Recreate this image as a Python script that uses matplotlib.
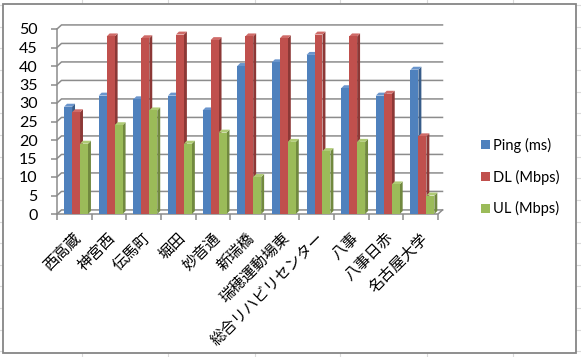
import matplotlib
matplotlib.use("Agg")
import matplotlib.pyplot as plt
from matplotlib.patches import Polygon, Rectangle
from matplotlib.lines import Line2D
import numpy as np

plt.rcParams["font.family"] = ["Lato", "Noto Sans CJK JP", "DejaVu Sans"]

# ── data
stations = ["西高蔵", "神宮西", "伝馬町", "堀田", "妙音通", "新瑞橋",
            "瑞穂運動場東", "総合リハビリセンター", "八事", "八事日赤", "名古屋大学"]
ping_ms = [29, 32, 31, 32, 28, 40, 41, 43, 34, 32, 39]
dl_mbps = [27.5, 48, 47.5, 48.5, 47, 48, 47.5, 48.5, 48, 32.5, 21]
ul_mbps = [19, 24, 28, 19, 22, 10, 19.5, 17, 19.5, 8, 5]
series_names = ["Ping (ms)", "DL (Mbps)", "UL (Mbps)"]
yticks = list(range(0, 55, 5))

W, H = 581, 357
fig = plt.figure(figsize=(W / 100, H / 100), dpi=100)
fig.patch.set_facecolor("white")


def fx(px):
    return px / W


def fy(py):
    return 1 - py / H


# ── spreadsheet grid behind the chart object
cell_col = "#dadada"
for x in [82, 168, 255, 340, 427, 513]:
    fig.add_artist(Line2D([fx(x), fx(x)], [fy(0), fy(H)], color=cell_col, lw=0.8, zorder=0))
for y in np.arange(5, H, 21.65):
    fig.add_artist(Line2D([fx(0), fx(W)], [fy(y), fy(y)], color=cell_col, lw=0.8, zorder=0))

# ── chart object frame
fig.add_artist(Rectangle((fx(3), fy(353)), fx(573), 349 / H, transform=fig.transFigure,
                         facecolor="white", edgecolor="#868686", lw=1.3, zorder=1))

ax = fig.add_axes([fx(57), fy(214), fx(381), 185 / H], zorder=2)
ax.set_facecolor("none")
n = len(stations)
ax.set_xlim(-0.5, n - 0.5)
ax.set_ylim(0, 50)

# depth of the 3D walls (data units)
DX, DY = 0.13, 1.1
grid_col = "#8c8c8c"
x0, x1 = -0.5, n - 0.5
for v in yticks:
    ax.plot([x0, x0 + DX, x1 + DX], [v, v + DY, v + DY], color=grid_col, lw=1.1,
            zorder=1, clip_on=False)
ax.plot([x0, x1, x1 + DX], [0, 0, DY], color=grid_col, lw=1.1, zorder=1, clip_on=False)

# ── pseudo-3D clustered columns
colors = ["#4F81BD", "#C0504D", "#9BBB59"]
sides = ["#385D8A", "#8C3836", "#71893F"]
tops = ["#6A95CC", "#CF6B68", "#AFCB75"]
offsets = [-0.18, 0.05, 0.28]
bw = 0.23
bdx, bdy = 0.085, 0.8
x = np.arange(n)
for s, vals in enumerate([ping_ms, dl_mbps, ul_mbps]):
    for i, h in enumerate(vals):
        z = 3 + s
        left = x[i] + offsets[s] - bw / 2
        right = left + bw
        ax.add_patch(Polygon([(right, 0), (right + bdx, bdy), (right + bdx, h + bdy), (right, h)],
                             closed=True, facecolor=sides[s], edgecolor="none", zorder=z))
        ax.add_patch(Polygon([(left, h), (left + bdx, h + bdy), (right + bdx, h + bdy), (right, h)],
                             closed=True, facecolor=tops[s], edgecolor="none", zorder=z))
    ax.bar(x + offsets[s], vals, bw, color=colors[s], zorder=3 + s, label=series_names[s])

# ── axes
for side in ["top", "right", "bottom"]:
    ax.spines[side].set_visible(False)
ax.spines["left"].set_color(grid_col)
ax.spines["left"].set_linewidth(1.1)
ax.set_yticks(yticks)
ax.tick_params(axis="y", length=4, width=1.1, color=grid_col, pad=10, labelsize=11.5)

ax.set_xticks(x)
ax.set_xticklabels(stations, rotation=45, ha="right", rotation_mode="anchor", fontsize=11)
ax.set_xticks(np.arange(-0.5, n, 1), minor=True)
ax.tick_params(axis="x", which="major", length=0, pad=12)
ax.tick_params(axis="x", which="minor", length=4, width=1.1, color=grid_col)

handles, labels = ax.get_legend_handles_labels()
fig.legend(handles, labels, loc="center left", bbox_to_anchor=(fx(468), fy(177)),
           frameon=False, fontsize=10.5, handlelength=0.6, handleheight=0.6,
           handletextpad=0.2, labelspacing=1.15)

fig.savefig("out.png", dpi=100)
